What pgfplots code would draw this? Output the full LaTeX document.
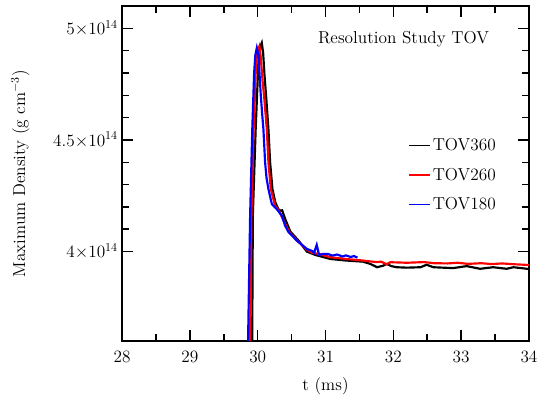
\documentclass[border=0pt]{standalone}
\usepackage{pgfplots}
\pgfplotsset{compat=1.18}

\begin{document}
\begin{tikzpicture}[font=\fontsize{14.4}{17}\selectfont]
\begin{axis}[
    scale only axis,
    width=339pt, height=279pt,
    xmin=28, xmax=34,
    ymin=3.6, ymax=5.1,
    xtick={28,29,30,31,32,33,34},
    minor x tick num=1,
    ytick={4,4.5,5},
    yticklabels={$4{\times}10^{14}$,$4.5{\times}10^{14}$,$5{\times}10^{14}$},
    minor y tick num=4,
    tick align=inside,
    major tick length=9pt,
    minor tick length=5.5pt,
    axis line style={line width=1.4pt},
    every tick/.style={line width=1.3pt, black},
    xticklabel style={yshift=-5pt},
    xlabel={t (ms)},
    ylabel={Maximum Density (g cm$^{-3}$)},
    xlabel style={at={(axis description cs:0.5,-0.135)}, anchor=center},
    ylabel style={at={(axis description cs:-0.25,0.5)}, anchor=center},
    legend cell align=left,
    legend style={draw=none, fill=none, inner sep=0pt, row sep=9pt,
        nodes={text=black},
        at={(axis description cs:0.703,0.612)}, anchor=north west},
    legend image post style={line width=1.25pt},
]
% TOV360
\addplot[black, line width=1.8pt] coordinates {
    (29.918,3.55) (29.928,4.161) (29.97,4.55) (30.01,4.847) (30.04,4.92)
    (30.06,4.935) (30.08,4.89) (30.10,4.79) (30.124,4.696) (30.158,4.548)
    (30.183,4.399) (30.217,4.28) (30.26,4.22) (30.305,4.19) (30.33,4.183)
    (30.36,4.185) (30.4,4.15) (30.48,4.09) (30.6,4.05) (30.725,4.0) (30.85,3.985)
    (31.07,3.967) (31.3,3.96) (31.55,3.955) (31.66,3.945) (31.76,3.93) (31.85,3.937)
    (31.9,3.945) (31.97,3.935) (32.05,3.93) (32.2,3.928) (32.4,3.93) (32.49,3.941)
    (32.59,3.93) (32.88,3.926) (33.08,3.935) (33.28,3.923) (33.47,3.93) (33.67,3.923)
    (33.77,3.93) (34.0,3.922)
};
\addlegendentry{TOV360}
% TOV260
\addplot[red, line width=1.8pt] coordinates {
    (29.886,3.55) (29.907,4.161) (29.94,4.55) (29.976,4.847) (30.0,4.9)
    (30.025,4.92) (30.045,4.87) (30.07,4.77) (30.094,4.696) (30.134,4.548)
    (30.158,4.399) (30.193,4.28) (30.257,4.205) (30.31,4.185) (30.38,4.14)
    (30.46,4.09) (30.58,4.05) (30.72,4.01) (30.80,3.995) (30.9,3.99) (31.07,3.975)
    (31.3,3.967) (31.55,3.96) (31.75,3.953) (31.82,3.955) (31.9,3.943) (31.96,3.953)
    (32.0,3.952) (32.2,3.950) (32.45,3.953) (32.6,3.948) (32.8,3.947) (32.95,3.95)
    (33.1,3.945) (33.3,3.948) (33.45,3.944) (33.6,3.947) (33.8,3.943) (34.0,3.94)
};
\addlegendentry{TOV260}
% TOV180
\addplot[blue, line width=1.8pt] coordinates {
    (29.855,3.55) (29.888,4.161) (29.92,4.55) (29.947,4.80) (29.965,4.88)
    (29.987,4.9125) (30.01,4.88) (30.03,4.78) (30.046,4.696) (30.065,4.62)
    (30.084,4.548) (30.109,4.399) (30.13,4.33) (30.158,4.28) (30.208,4.213)
    (30.282,4.19) (30.355,4.161) (30.404,4.116) (30.453,4.088) (30.577,4.049)
    (30.725,4.012) (30.80,4.003) (30.83,3.994) (30.87,4.03) (30.905,3.985)
    (30.97,3.99) (31.04,3.989) (31.1,3.982) (31.17,3.987) (31.25,3.978)
    (31.3,3.983) (31.37,3.976) (31.42,3.98) (31.47,3.973)
};
\addlegendentry{TOV180}

\node at (axis cs:32.15,4.95) {Resolution Study TOV};
\end{axis}
\pgfresetboundingbox
\path (current axis.south west) ++(-101.7pt,-50pt) coordinate (bl);
\path (current axis.north east) ++(10pt,5pt) coordinate (tr);
\path (bl) rectangle (tr);
\end{tikzpicture}
\end{document}
